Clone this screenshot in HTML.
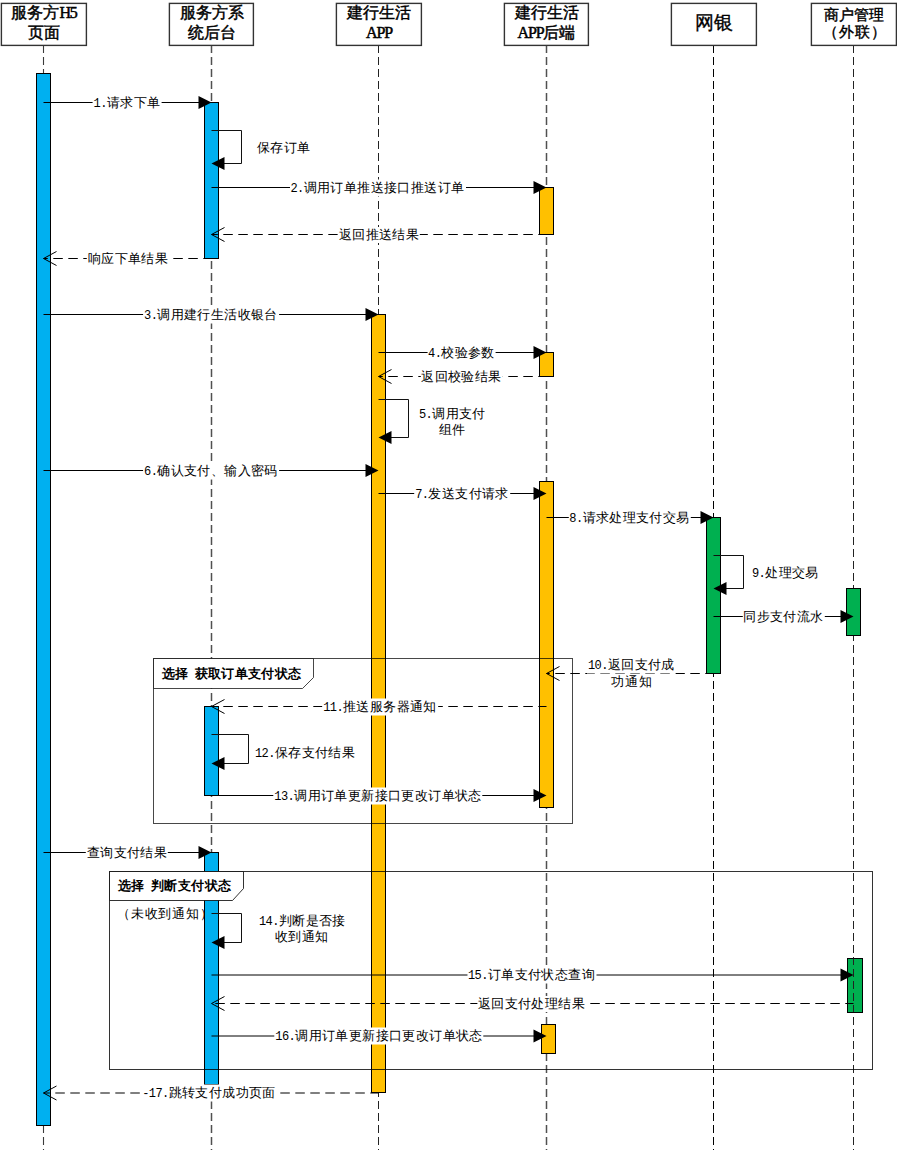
<!DOCTYPE html>
<html><head><meta charset="utf-8"><style>
html,body{margin:0;padding:0;background:#fff;}
body{width:897px;height:1150px;position:relative;overflow:hidden;font-family:"Liberation Sans",sans-serif;}
svg{position:absolute;left:0;top:0;}
.m,.tab{position:absolute;font-size:13px;letter-spacing:0.4px;line-height:16px;background:#fff;white-space:nowrap;transform:translate(-50%,-50%);color:#000;padding:0 1px;}
.l{transform:translate(0,-50%);}
.a{font-family:"Liberation Mono",monospace;font-size:12px;letter-spacing:-0.6px;}
.tab{font-weight:bold;background:none;}
.hb,.hw,.hm{position:absolute;top:3px;height:41px;text-align:center;color:#000;}
.hb .a{font-family:"Liberation Serif",serif;font-size:16px;letter-spacing:-1.2px;font-weight:normal;-webkit-text-stroke:0.5px #000;}
.hb{font-family:"Liberation Serif",serif;font-weight:normal;-webkit-text-stroke:0.45px #000;font-size:16px;line-height:20px;}
.hw{font-family:"Liberation Serif",serif;font-size:19px;font-weight:normal;-webkit-text-stroke:0.3px #000;line-height:39px;}
.hm{font-weight:normal;-webkit-text-stroke:0.4px #000;font-size:15px;line-height:18px;padding-top:3px;height:38px;}
</style></head><body>
<svg width="897" height="1150" viewBox="0 0 897 1150">
<line x1="43.5" y1="45" x2="43.5" y2="1150" stroke="#3a3a3a" stroke-width="1.1" stroke-dasharray="8 4"/>
<line x1="211.5" y1="45" x2="211.5" y2="1150" stroke="#505050" stroke-width="1.5" stroke-dasharray="8 4"/>
<line x1="378.5" y1="45" x2="378.5" y2="1150" stroke="#222" stroke-width="1" stroke-dasharray="8 4"/>
<line x1="546.5" y1="45" x2="546.5" y2="1150" stroke="#505050" stroke-width="1.5" stroke-dasharray="8 4"/>
<line x1="713.5" y1="45" x2="713.5" y2="1150" stroke="#000" stroke-width="1" stroke-dasharray="8 4"/>
<line x1="853.5" y1="45" x2="853.5" y2="1150" stroke="#222" stroke-width="1" stroke-dasharray="8 4"/>
<rect x="1.4" y="3.4" width="85" height="42" fill="#fff" stroke="#333" stroke-width="1.4"/>
<rect x="169.4" y="3.4" width="84" height="42" fill="#fff" stroke="#333" stroke-width="1.4"/>
<rect x="336.4" y="3.4" width="85" height="42" fill="#fff" stroke="#333" stroke-width="1.4"/>
<rect x="504.4" y="3.4" width="84" height="42" fill="#fff" stroke="#333" stroke-width="1.4"/>
<rect x="671.4" y="3.4" width="85" height="42" fill="#fff" stroke="#333" stroke-width="1.4"/>
<rect x="811.4" y="3.4" width="85" height="42" fill="#fff" stroke="#333" stroke-width="1.4"/>
<rect x="36.5" y="73.5" width="14" height="1052" fill="#00B0F0" stroke="#000" stroke-width="1"/>
<rect x="204.5" y="102.5" width="14" height="156" fill="#00B0F0" stroke="#000" stroke-width="1"/>
<rect x="539.5" y="187.5" width="14" height="47" fill="#FFC000" stroke="#000" stroke-width="1"/>
<rect x="371.5" y="314.5" width="14" height="778" fill="#FFC000" stroke="#000" stroke-width="1"/>
<rect x="539.5" y="352.5" width="14" height="24" fill="#FFC000" stroke="#000" stroke-width="1"/>
<rect x="539.5" y="481.5" width="14" height="326" fill="#FFC000" stroke="#000" stroke-width="1"/>
<rect x="706.5" y="517.5" width="14" height="156" fill="#00B050" stroke="#000" stroke-width="1"/>
<rect x="846.5" y="588.5" width="14" height="47" fill="#00B050" stroke="#000" stroke-width="1"/>
<rect x="204.5" y="706.5" width="14" height="89" fill="#00B0F0" stroke="#000" stroke-width="1"/>
<rect x="204.5" y="852.5" width="14" height="232" fill="#00B0F0" stroke="#000" stroke-width="1"/>
<rect x="847.5" y="958.5" width="15" height="54" fill="#00B050" stroke="#000" stroke-width="1"/>
<rect x="541.5" y="1024.5" width="14" height="29" fill="#FFC000" stroke="#000" stroke-width="1"/>
<line x1="853.5" y1="958.5" x2="853.5" y2="1012" stroke="#222" stroke-width="1" stroke-dasharray="8 4" stroke-dashoffset="1.5"/>
<rect x="153.5" y="658.5" width="419" height="165" fill="none" stroke="rgba(0,0,0,0.72)" stroke-width="1"/>
<polygon points="153.5,658.5 313.5,658.5 313.5,677.5 302.5,688.5 153.5,688.5" fill="#fff" stroke="rgba(0,0,0,0.72)" stroke-width="1"/>
<rect x="109.5" y="871.5" width="763" height="198" fill="none" stroke="rgba(0,0,0,0.8)" stroke-width="1"/>
<polygon points="109.5,871.5 243.5,871.5 243.5,888.5 232.5,900.5 109.5,900.5" fill="#fff" stroke="rgba(0,0,0,0.8)" stroke-width="1"/>
<line x1="43.5" y1="102.5" x2="201.5" y2="102.5" stroke="#000" stroke-width="1"/>
<polygon points="211.5,102.5 198.5,96.0 198.5,109.0" fill="#000"/>
<polyline points="211.5,130.5 241.5,130.5 241.5,163.5 223,163.5" fill="none" stroke="#111" stroke-width="1"/>
<polygon points="211.5,163.5 224.5,157.0 224.5,170.0" fill="#000"/>
<line x1="211.5" y1="187.5" x2="536.5" y2="187.5" stroke="#000" stroke-width="1"/>
<polygon points="546.5,187.5 533.5,181.0 533.5,194.0" fill="#000"/>
<line x1="546.5" y1="234.5" x2="211.5" y2="234.5" stroke="#000" stroke-width="1.2" stroke-dasharray="9.5 5.5" stroke-dashoffset="1.3"/>
<polyline points="224.5,227.5 211.5,234.5 224.5,241.5" fill="none" stroke="#000" stroke-width="1"/>
<line x1="211.5" y1="258.5" x2="43.5" y2="258.5" stroke="#000" stroke-width="1.2" stroke-dasharray="9.5 5.5" stroke-dashoffset="1.3"/>
<polyline points="56.5,251.5 43.5,258.5 56.5,265.5" fill="none" stroke="#000" stroke-width="1"/>
<line x1="43.5" y1="314.5" x2="368.5" y2="314.5" stroke="#000" stroke-width="1"/>
<polygon points="378.5,314.5 365.5,308.0 365.5,321.0" fill="#000"/>
<line x1="378.5" y1="352.5" x2="536.5" y2="352.5" stroke="#000" stroke-width="1"/>
<polygon points="546.5,352.5 533.5,346.0 533.5,359.0" fill="#000"/>
<line x1="546.5" y1="376.5" x2="378.5" y2="376.5" stroke="#000" stroke-width="1.2" stroke-dasharray="9.5 5.5" stroke-dashoffset="1.3"/>
<polyline points="391.5,369.5 378.5,376.5 391.5,383.5" fill="none" stroke="#000" stroke-width="1"/>
<polyline points="378.5,399.5 408.5,399.5 408.5,437.5 390,437.5" fill="none" stroke="#111" stroke-width="1"/>
<polygon points="378.5,437.5 391.5,431.0 391.5,444.0" fill="#000"/>
<line x1="43.5" y1="470.5" x2="368.5" y2="470.5" stroke="#000" stroke-width="1"/>
<polygon points="378.5,470.5 365.5,464.0 365.5,477.0" fill="#000"/>
<line x1="378.5" y1="493.5" x2="536.5" y2="493.5" stroke="#000" stroke-width="1"/>
<polygon points="546.5,493.5 533.5,487.0 533.5,500.0" fill="#000"/>
<line x1="546.5" y1="517.5" x2="703.5" y2="517.5" stroke="#000" stroke-width="1"/>
<polygon points="713.5,517.5 700.5,511.0 700.5,524.0" fill="#000"/>
<polyline points="713.5,555.5 743.5,555.5 743.5,588.5 725,588.5" fill="none" stroke="#111" stroke-width="1"/>
<polygon points="713.5,588.5 726.5,582.0 726.5,595.0" fill="#000"/>
<line x1="713.5" y1="616.5" x2="843.5" y2="616.5" stroke="#000" stroke-width="1"/>
<polygon points="853.5,616.5 840.5,610.0 840.5,623.0" fill="#000"/>
<line x1="713.5" y1="673.5" x2="546.5" y2="673.5" stroke="#000" stroke-width="1.2" stroke-dasharray="9.5 5.5" stroke-dashoffset="1.3"/>
<polyline points="559.5,666.5 546.5,673.5 559.5,680.5" fill="none" stroke="#000" stroke-width="1"/>
<line x1="546.5" y1="706.5" x2="211.5" y2="706.5" stroke="#000" stroke-width="1.2" stroke-dasharray="9.5 5.5" stroke-dashoffset="1.3"/>
<polyline points="224.5,699.5 211.5,706.5 224.5,713.5" fill="none" stroke="#000" stroke-width="1"/>
<polyline points="211.5,734.5 248.5,734.5 248.5,763.5 223,763.5" fill="none" stroke="#111" stroke-width="1"/>
<polygon points="211.5,763.5 224.5,757.0 224.5,770.0" fill="#000"/>
<line x1="211.5" y1="795.5" x2="536.5" y2="795.5" stroke="#000" stroke-width="1"/>
<polygon points="546.5,795.5 533.5,789.0 533.5,802.0" fill="#000"/>
<line x1="43.5" y1="852.5" x2="201.5" y2="852.5" stroke="#000" stroke-width="1"/>
<polygon points="211.5,852.5 198.5,846.0 198.5,859.0" fill="#000"/>
<polyline points="211.5,913.5 241.5,913.5 241.5,942.5 223,942.5" fill="none" stroke="#111" stroke-width="1"/>
<polygon points="211.5,942.5 224.5,936.0 224.5,949.0" fill="#000"/>
<line x1="211.5" y1="975.0" x2="843.5" y2="975.0" stroke="#000" stroke-width="1"/>
<polygon points="853.5,975.0 840.5,968.5 840.5,981.5" fill="#000"/>
<line x1="853.5" y1="1003.5" x2="211.5" y2="1003.5" stroke="#000" stroke-width="1.2" stroke-dasharray="9.5 5.5" stroke-dashoffset="1.3"/>
<polyline points="224.5,996.5 211.5,1003.5 224.5,1010.5" fill="none" stroke="#000" stroke-width="1"/>
<line x1="211.5" y1="1036.0" x2="536.5" y2="1036.0" stroke="#000" stroke-width="1"/>
<polygon points="546.5,1036.0 533.5,1029.5 533.5,1042.5" fill="#000"/>
<line x1="378.5" y1="1093.0" x2="43.5" y2="1093.0" stroke="#000" stroke-width="1.2" stroke-dasharray="9.5 5.5" stroke-dashoffset="1.3"/>
<polyline points="56.5,1086.0 43.5,1093.0 56.5,1100.0" fill="none" stroke="#000" stroke-width="1"/>
</svg>
<div class="hb" style="left:2px;width:84px">服务方<span class="a">H5</span><br>页面</div>
<div class="hb" style="left:170px;width:83px">服务方系<br>统后台</div>
<div class="hb" style="left:337px;width:84px">建行生活<br><span class="a">APP</span></div>
<div class="hb" style="left:505px;width:83px">建行生活<br><span class="a">APP</span>后端</div>
<div class="hw" style="left:672px;width:84px">网银</div>
<div class="hm" style="left:812px;width:84px">商户管理<br><span style="letter-spacing:1px;margin-left:1px;position:relative;top:-1px">（外联）</span></div>
<div class="m" style="left:127px;top:102.8px"><span class="a">1.</span>请求下单</div>
<div class="m l" style="left:256px;top:147.8px">保存订单</div>
<div class="m" style="left:377.5px;top:187.8px"><span class="a">2.</span>调用订单推送接口推送订单</div>
<div class="m" style="left:379px;top:234.8px">返回推送结果</div>
<div class="m" style="left:128px;top:258.8px">响应下单结果</div>
<div class="m" style="left:211px;top:314.8px"><span class="a">3.</span>调用建行生活收银台</div>
<div class="m" style="left:461.5px;top:352.8px"><span class="a">4.</span>校验参数</div>
<div class="m" style="left:461.5px;top:376.8px">返回校验结果</div>
<div class="m l" style="left:418px;top:414.40000000000003px"><span class="a">5.</span>调用支付</div>
<div class="m l" style="left:438px;top:430.1px">组件</div>
<div class="m" style="left:211px;top:470.8px"><span class="a">6.</span>确认支付、输入密码</div>
<div class="m" style="left:462px;top:493.8px"><span class="a">7.</span>发送支付请求</div>
<div class="m" style="left:629.5px;top:517.8px"><span class="a">8.</span>请求处理支付交易</div>
<div class="m l" style="left:751px;top:572.8px"><span class="a">9.</span>处理交易</div>
<div class="m" style="left:783.5px;top:616.8px">同步支付流水</div>
<div class="m l" style="left:587px;top:664.5px"><span class="a">10.</span>返回支付成</div>
<div class="m l" style="left:610px;top:681.8px;letter-spacing:1.2px;background:none">功通知</div>
<div class="m" style="left:380px;top:706.8px"><span class="a">11.</span>推送服务器通知</div>
<div class="m l" style="left:254px;top:752.8px"><span class="a">12.</span>保存支付结果</div>
<div class="m" style="left:378px;top:795.8px"><span class="a">13.</span>调用订单更新接口更改订单状态</div>
<div class="m" style="left:127px;top:852.8px">查询支付结果</div>
<div class="m l" style="left:258px;top:921.3px"><span class="a">14.</span>判断是否接</div>
<div class="m l" style="left:274px;top:937.3px">收到通知</div>
<div class="m" style="left:531.5px;top:974.8px"><span class="a">15.</span>订单支付状态查询</div>
<div class="m" style="left:531.5px;top:1003.8px">返回支付处理结果</div>
<div class="m" style="left:379px;top:1035.8px"><span class="a">16.</span>调用订单更新接口更改订单状态</div>
<div class="m" style="left:209px;top:1092.8px"><span class="a">-17.</span>跳转支付成功页面</div>
<div class="tab l" style="left:160.5px;top:673.8px">选择</div>
<div class="tab l" style="left:193.5px;top:673.8px">获取订单支付状态</div>
<div class="tab l" style="left:117px;top:885.8px">选择</div>
<div class="tab l" style="left:150px;top:885.8px">判断支付状态</div>
<div class="m l" style="left:116px;top:914px;background:none;letter-spacing:0.8px">（未收到通知）</div>
</body></html>
